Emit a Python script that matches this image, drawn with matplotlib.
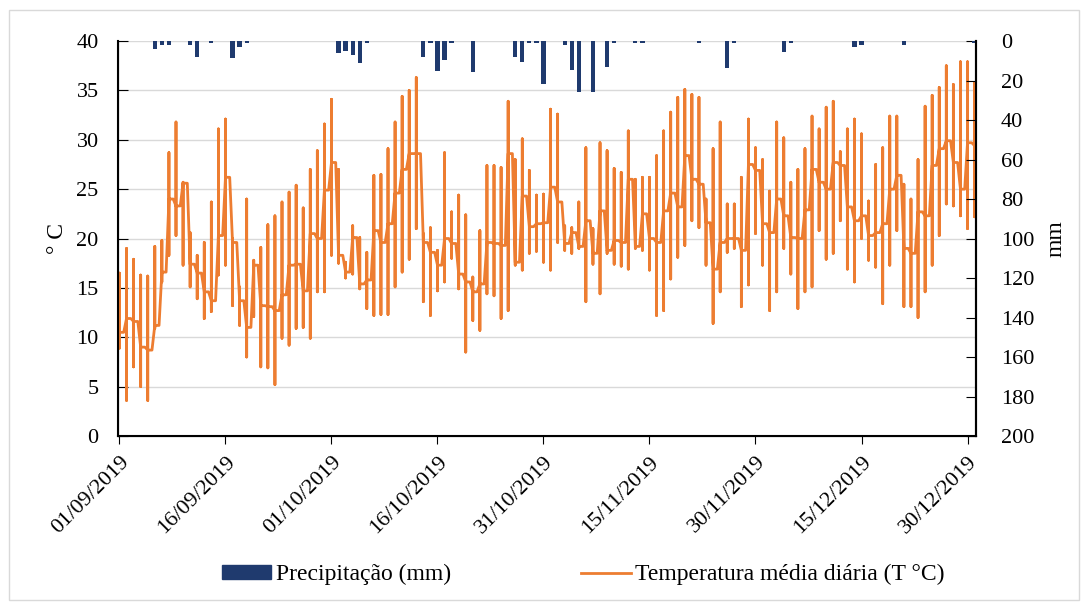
import matplotlib.pyplot as plt
from matplotlib.patches import Patch, Rectangle
from matplotlib.lines import Line2D
import pandas as pd

plt.rcParams["font.family"] = ["Liberation Serif", "DejaVu Serif"]

# dias 01/09/2019 .. 31/12/2019
dates = pd.date_range("2019-09-01", "2019-12-31", freq="D")

t_max = [16.5, 19.0, 17.9, 16.3, 16.2, 19.2, 19.8, 28.7, 31.8, 25.7,
         20.6, 18.3, 19.6, 23.7, 31.1, 32.1, 20.0, 15.1, 24.0, 17.8,
         19.1, 21.4, 22.3, 23.7, 24.7, 25.4, 23.1, 27.0, 28.9, 31.6,
         34.1, 27.0, 17.6, 21.3, 20.1, 18.6, 26.4, 26.5, 29.1, 31.8,
         34.4, 35.0, 36.3, 20.5, 21.1, 18.8, 28.7, 22.7, 24.4, 22.4,
         16.1, 20.8, 27.4, 27.4, 27.2, 33.9, 28.0, 30.1, 26.9, 24.4,
         24.5, 33.1, 32.6, 21.3, 21.1, 23.7, 29.2, 21.0, 29.7, 28.9,
         27.1, 26.7, 30.9, 26.0, 26.2, 26.2, 28.4, 30.9, 32.8, 34.3,
         35.1, 34.6, 34.3, 24.0, 29.1, 31.8, 23.5, 23.5, 26.2, 32.1,
         29.2, 28.0, 24.8, 31.8, 30.2, 25.7, 27.0, 29.1, 32.4, 31.1,
         33.3, 33.9, 28.8, 31.1, 32.1, 30.6, 23.8, 27.5, 29.2, 32.4,
         32.4, 25.5, 24.0, 28.0, 33.4, 34.5, 35.3, 37.5, 35.6, 37.9,
         37.9, 35.8]

t_min = [8.9, 3.6, 7.0, 5.0, 3.6, 10.9, 15.6, 18.3, 20.3, 17.3,
         15.1, 13.9, 11.9, 12.6, 16.3, 17.3, 13.2, 11.2, 8.0, 12.1,
         7.0, 6.9, 5.2, 9.9, 9.2, 10.9, 11.0, 9.9, 14.6, 14.6,
         18.3, 17.5, 16.0, 16.4, 14.9, 12.9, 12.2, 12.3, 12.3, 15.1,
         16.6, 17.9, 21.0, 13.6, 12.2, 14.7, 15.6, 18.0, 14.9, 8.5,
         11.7, 10.7, 14.4, 14.2, 11.9, 12.7, 17.3, 16.8, 18.5, 18.7,
         17.6, 16.8, 19.6, 18.8, 18.5, 19.0, 13.6, 17.4, 14.4, 18.5,
         17.4, 17.2, 16.9, 19.0, 18.8, 16.8, 12.2, 12.7, 15.9, 18.1,
         19.3, 21.8, 21.1, 17.3, 11.4, 14.6, 18.6, 19.0, 13.1, 15.3,
         20.5, 17.3, 12.7, 14.6, 19.0, 16.4, 12.9, 14.6, 15.1, 20.8,
         17.9, 18.5, 21.8, 16.9, 15.6, 20.0, 17.8, 17.1, 13.4, 17.3,
         20.8, 13.1, 13.1, 12.0, 14.6, 17.3, 20.3, 23.5, 23.3, 22.3,
         21.0, 22.2]

t_mean = [10.5, 11.9, 11.6, 9.0, 8.7, 11.2, 16.6, 24.0, 23.3, 25.6,
          17.4, 16.5, 14.6, 13.7, 20.3, 26.2, 19.6, 13.7, 11.0, 17.3,
          13.2, 13.1, 12.7, 14.3, 17.3, 17.4, 14.7, 20.5, 20.0, 24.9,
          27.7, 18.3, 16.6, 20.1, 15.4, 15.8, 20.8, 19.6, 21.5, 24.6,
          27.0, 28.6, 28.6, 19.6, 18.6, 17.3, 20.0, 19.5, 16.4, 15.6,
          14.6, 15.4, 19.6, 19.5, 19.3, 28.6, 17.6, 24.3, 21.2, 21.5,
          21.6, 25.2, 23.7, 19.5, 20.6, 19.2, 21.8, 18.5, 22.8, 18.8,
          19.8, 19.6, 26.0, 19.2, 22.5, 20.0, 19.6, 22.8, 24.6, 23.2,
          28.4, 26.0, 25.5, 21.6, 16.9, 19.6, 20.0, 20.0, 18.8, 27.5,
          26.9, 21.5, 20.6, 24.0, 22.3, 20.1, 20.0, 22.9, 27.0, 25.7,
          25.0, 27.7, 27.4, 23.2, 21.8, 22.3, 20.3, 20.6, 21.5, 25.0,
          26.4, 19.0, 18.5, 22.7, 22.3, 27.4, 29.1, 29.9, 27.7, 25.0,
          29.7, 29.4]

precip = [0, 0, 0, 0, 0, 4, 2, 2, 0, 0,
          2, 8, 0, 1, 0, 0, 8.5, 3, 1, 0,
          0, 0, 0, 0, 0, 0, 0, 0, 0, 0,
          0, 6, 5, 7, 11, 1, 0, 0, 0, 0,
          0, 0, 0, 8, 1, 15, 9.6, 1, 0, 0,
          15.5, 0, 0, 0, 0, 0, 8, 10.6, 1, 1,
          22, 0, 0, 2, 14.7, 25.7, 0, 26, 0, 13,
          1, 0, 0, 1, 1, 0, 0, 0, 0, 0,
          0, 0, 1, 0, 0, 0, 13.7, 1, 0, 0,
          0, 0, 0, 0, 5.4, 1, 0, 0, 0, 0,
          0, 0, 0, 0, 3, 2, 0, 0, 0, 0,
          0, 2, 0, 0, 0, 0, 0, 0, 0, 0,
          0, 1]

tick_days = list(range(0, 121, 15))

BLUE = "#1F3A6E"
ORANGE = "#ED7D31"

fig = plt.figure(figsize=(10.86, 6.07), dpi=100)
ax = fig.add_axes([0.1087, 0.2817, 0.790, 0.6507])

days = range(len(dates))
xs, ys = [], []
for d in days:
    xs += [d, d, d, d, d + 0.6]
    ys += [t_mean[d], t_max[d], t_min[d], t_mean[d], t_mean[d]]
ax.plot(xs, ys, color=ORANGE, lw=2.0, solid_joinstyle="round", zorder=3)

ax.set_ylim(0, 40)
ax.set_yticks(range(0, 41, 5))
ax.set_xlim(-0.2, 121.2)
ax.set_xticks(tick_days)
ax.set_xticklabels([dates[d].strftime("%d/%m/%Y") for d in tick_days],
                   rotation=45, ha="right", rotation_mode="anchor")
ax.grid(axis="y", color="#D9D9D9", lw=1)
ax.set_axisbelow(True)
ax.tick_params(axis="y", direction="in", length=7, pad=14, labelsize=16)
ax.tick_params(axis="x", direction="out", length=6, pad=6, labelsize=16)
ax.spines["top"].set_visible(False)
for s in ("left", "bottom", "right"):
    ax.spines[s].set_linewidth(1.5)
ax.set_ylabel("° C", fontsize=17, labelpad=6)

ax2 = ax.twinx()
ax2.bar(list(days), precip, width=0.6, color=BLUE, zorder=2)
ax2.set_ylim(200, 0)
ax2.set_yticks(range(0, 201, 20))
ax2.tick_params(axis="y", direction="in", length=7, pad=18, labelsize=16)
ax2.spines["top"].set_visible(False)
ax2.spines["right"].set_linewidth(1.5)
ax2.set_ylabel("mm", fontsize=17, labelpad=8)

handles = [Patch(facecolor=BLUE, edgecolor=BLUE),
           Line2D([], [], color=ORANGE, lw=2.0)]
fig.legend(handles, ["Precipitação (mm)", "Temperatura média diária (T °C)"],
           loc="center", bbox_to_anchor=(0.537, 0.053), ncol=2, frameon=False,
           fontsize=17, handlelength=2.1, handleheight=0.55,
           handletextpad=0.2, columnspacing=5.5)

fig.add_artist(Rectangle((0.008, 0.012), 0.986, 0.972, transform=fig.transFigure,
                         fill=False, edgecolor="#D9D9D9", lw=1))

plt.savefig("out.png", dpi=100)
plt.close()
